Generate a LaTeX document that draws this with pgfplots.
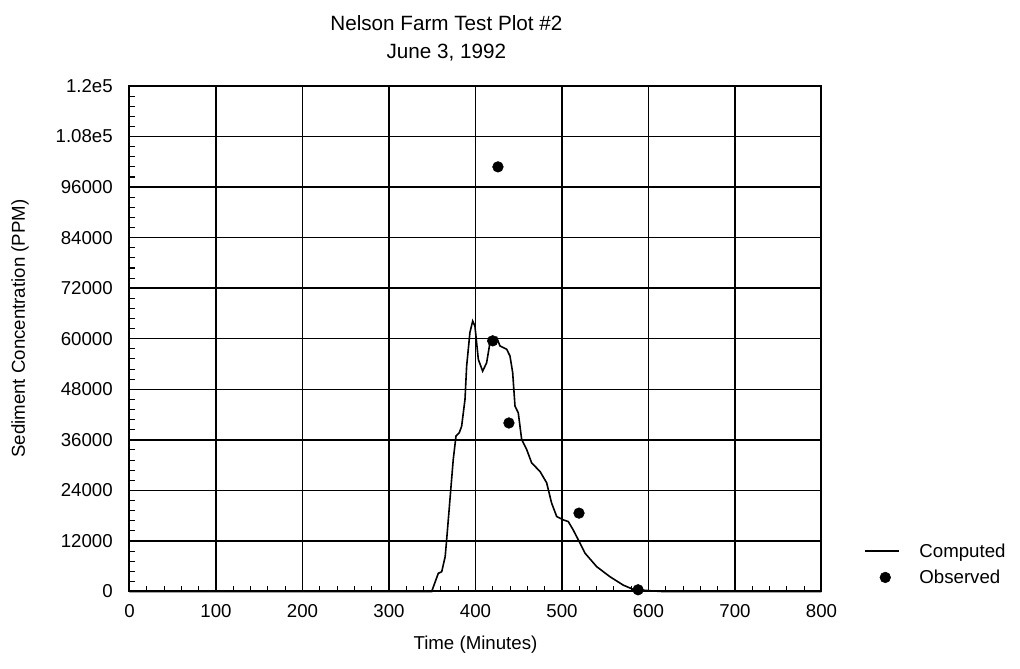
\documentclass[border=0pt]{standalone}
\usepackage{pgfplots}
\pgfplotsset{compat=1.18}
\usepackage{fontspec}
\setmainfont{Liberation Sans}
\pgfplotsset{
  lineleg/.style={legend image code/.code={\draw[##1] (0pt,0pt) -- (25pt,0pt);}},
  dotleg/.style={legend image code/.code={\draw[##1] plot coordinates {(15pt,0pt)};}},
}
\begin{document}
\begin{tikzpicture}
\useasboundingbox (-97.1pt,-57.4pt) rectangle (667.9pt,443.6pt);
\begin{axis}[
  at={(0pt,0pt)}, anchor=south west,
  scale only axis, width=519pt, height=379.1pt,
  xmin=0, xmax=800, ymin=0, ymax=120000,
  xtick={0,100,...,800},
  ytick={0,12000,24000,36000,48000,60000,72000,84000,96000,108000,120000},
  yticklabels={0,12000,24000,36000,48000,60000,72000,84000,96000,1.08e5,1.2e5},
  scaled y ticks=false, scaled x ticks=false,
  /pgf/number format/assume math mode=true,
  xticklabel style={font=\fontsize{14}{16}\selectfont, yshift=-6pt},
  yticklabel style={font=\fontsize{14}{16}\selectfont, xshift=-9pt},
  minor x tick num=4, minor y tick num=4,
  grid=major,
  major grid style={black, line width=1.1pt},
  axis line style={black, line width=1.5pt},
  major tick length=0pt, minor tick length=4pt,
  tick align=inside, tick pos=left,
  minor tick style={black, line width=0.8pt},
  xlabel={Time (Minutes)},
  ylabel={Sediment Concentration (PPM)},
  xlabel style={font=\fontsize{14}{16}\selectfont, at={(axis description cs:0.5,-0.1058)}, anchor=center},
  ylabel style={font=\fontsize{14}{16}\selectfont, at={(axis description cs:-0.158,0.52)}, anchor=center},
  legend style={draw=none, fill=none, font=\fontsize{14}{16}\selectfont,
    at={(1.056,0.106)}, anchor=north west, row sep=4pt,
    /tikz/every odd column/.append style={column sep=13pt}},
  legend cell align=left,
  clip=false,
]
\addplot[black, line width=1.2pt, mark=none, lineleg] coordinates {
(0,0) (349.4,0) (357,4300) (361,4700) (365,8300) (366.7,12300) (370.5,21800)
(374.3,31300) (377.5,36900) (381.3,37700) (384,39200) (387.9,45600)
(389.8,53500) (393.6,61500) (396.8,64200) (399.4,63000) (403.3,55100)
(408.3,52300) (412.9,54300) (416.8,59100) (424.5,60300) (428.3,58300)
(436.1,57500) (439.9,55900) (443,52000) (445.7,44000) (449.5,42400)
(453.4,36100) (459.2,33700) (465,30500) (474.6,28500) (482.3,25800)
(488,21000) (493.9,17800) (501.5,17000) (507.3,16600) (513,14600)
(518.8,12300) (526.6,9100) (540.1,5900) (555.5,3500) (570.9,1500)
(582.4,500) (600,200) (615,0) (800,0)
};
\addlegendentry{Computed}
\addplot[only marks, mark=*, mark size=4pt, black, dotleg] coordinates {
(426,100800) (419.9,59500) (438.7,40000) (519.7,18600) (588,400)
};
\addlegendentry{Observed}
\node[font=\fontsize{15.5}{17}\selectfont, align=center, anchor=south]
  at (rel axis cs:0.458,1.04) {Nelson Farm Test Plot \#2\\[4pt]June 3, 1992};
\end{axis}
\end{tikzpicture}
\end{document}
